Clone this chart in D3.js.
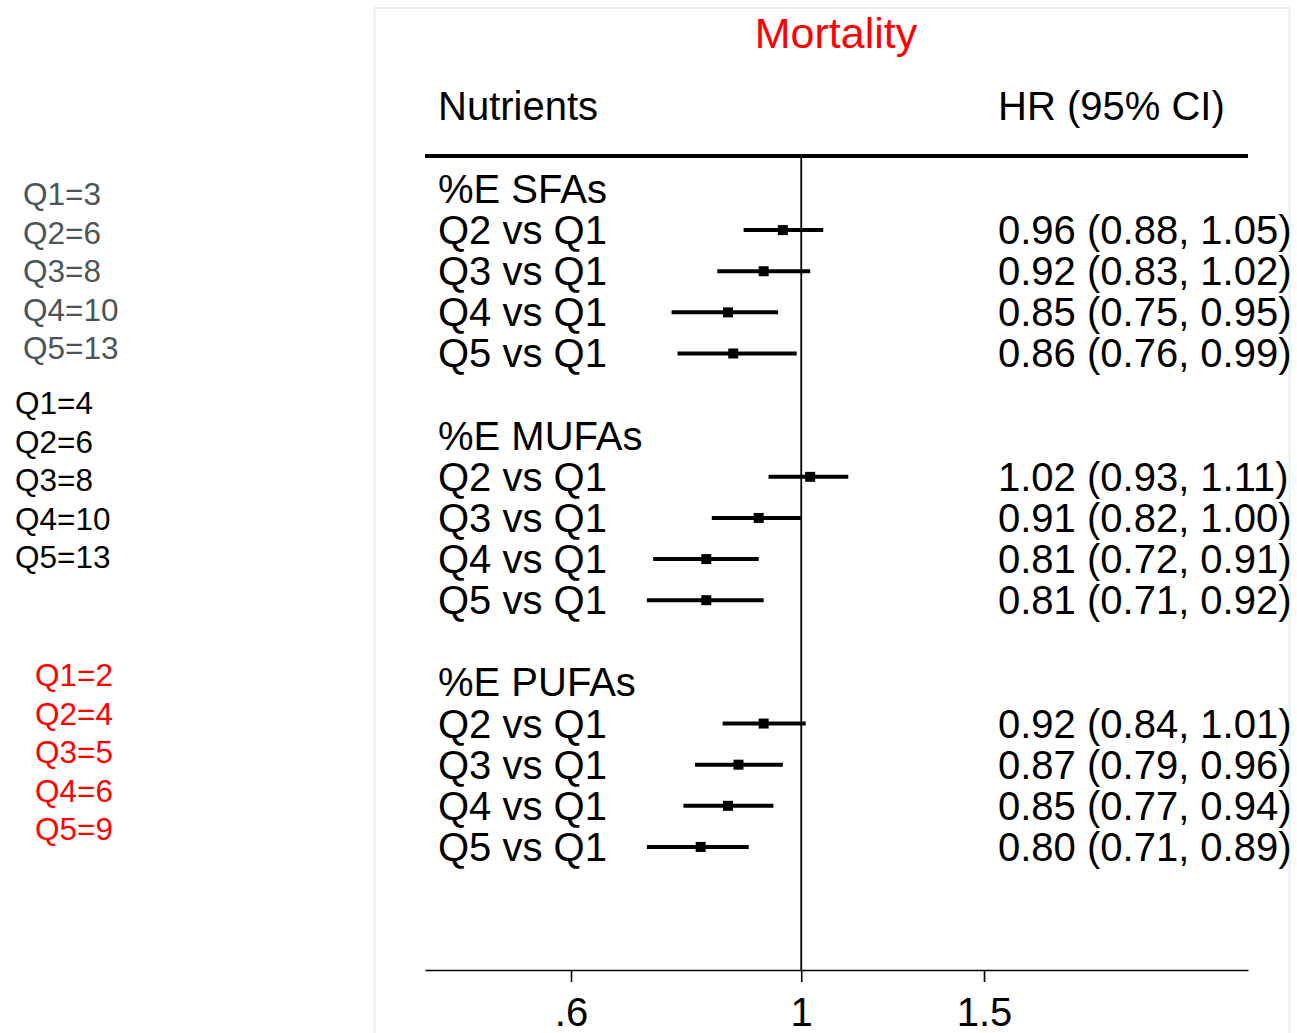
<!DOCTYPE html>
<html>
<head>
<meta charset="utf-8">
<script src="https://cdn.jsdelivr.net/npm/d3@7"></script>
<style>
  html, body { margin: 0; padding: 0; background: #fff; }
  svg { display: block; }
  text { font-family: "Liberation Sans", Arial, sans-serif; }
</style>
</head>
<body>
<script>
// Forest plot: hazard ratios for mortality by quintile of fat intake (%E)
const groups = ["%E SFAs", "%E MUFAs", "%E PUFAs"];
const comparisons = ["Q2 vs Q1", "Q3 vs Q1", "Q4 vs Q1", "Q5 vs Q1"];

const hrSFA = [0.96, 0.92, 0.85, 0.86];
const loSFA = [0.88, 0.83, 0.75, 0.76];
const hiSFA = [1.05, 1.02, 0.95, 0.99];

const hrMUFA = [1.02, 0.91, 0.81, 0.81];
const loMUFA = [0.93, 0.82, 0.72, 0.71];
const hiMUFA = [1.11, 1.00, 0.91, 0.92];

const hrPUFA = [0.92, 0.87, 0.85, 0.80];
const loPUFA = [0.84, 0.79, 0.77, 0.71];
const hiPUFA = [1.01, 0.96, 0.94, 0.89];

// Median intake per quintile, shown in the left margin
const quintiles = ["Q1", "Q2", "Q3", "Q4", "Q5"];
const medSFA = [3, 6, 8, 10, 13];
const medMUFA = [4, 6, 8, 10, 13];
const medPUFA = [2, 4, 5, 6, 9];

const tickValues = [0.6, 1, 1.5];
const tickLabels = [".6", "1", "1.5"];

const W = 1297, H = 1033;
const svg = d3.select("body").append("svg").attr("width", W).attr("height", H);

// Panel frame
svg.append("rect")
  .attr("x", 374.5).attr("y", 8).attr("width", 915).attr("height", 1050)
  .attr("fill", "none").attr("stroke", "#e4edf0").attr("stroke-width", 2);

// Log-scaled hazard ratio axis
const x0 = d3.scaleLog().domain([0.6, 1.5]).range([571, 984]);
const x = d3.scaleLog().domain([x0.invert(425), x0.invert(1248)]).range([425, 1248]);

// Rows: header, four comparisons, blank line, for each group
const rowY = i => 189 + i * 41.12;
const rows = [];
const sets = [[hrSFA, loSFA, hiSFA], [hrMUFA, loMUFA, hiMUFA], [hrPUFA, loPUFA, hiPUFA]];
groups.forEach((g, gi) => {
  rows.push({ type: "header", label: g, idx: gi * 6 });
  comparisons.forEach((c, ci) => {
    rows.push({ type: "est", label: c, idx: gi * 6 + 1 + ci,
      hr: sets[gi][0][ci], lo: sets[gi][1][ci], hi: sets[gi][2][ci] });
  });
});

const fmt = d3.format(".2f");
const FS = 40;

// Title and column headers
svg.append("text").attr("x", 836).attr("y", 48).attr("text-anchor", "middle")
  .attr("font-size", 43).attr("fill", "#ff0000").text("Mortality");
svg.append("text").attr("x", 438).attr("y", 120).attr("font-size", FS).attr("fill", "#000").text("Nutrients");
svg.append("text").attr("x", 998).attr("y", 120).attr("font-size", FS).attr("fill", "#000").text("HR (95% CI)");

// Heavy rule under the headers
svg.append("line").attr("x1", 425).attr("x2", 1248).attr("y1", 156).attr("y2", 156)
  .attr("stroke", "#000").attr("stroke-width", 4);

// Reference line at HR = 1
svg.append("line").attr("x1", x(1)).attr("x2", x(1)).attr("y1", 156).attr("y2", 970)
  .attr("stroke", "#000").attr("stroke-width", 1.8);

// Row labels
svg.append("g").selectAll("text").data(rows).join("text")
  .attr("x", 438).attr("y", d => rowY(d.idx) + 14)
  .attr("font-size", FS).attr("fill", "#000").text(d => d.label);

const est = rows.filter(d => d.type === "est");

// Confidence intervals
svg.append("g").selectAll("line").data(est).join("line")
  .attr("x1", d => x(d.lo)).attr("x2", d => x(d.hi))
  .attr("y1", d => rowY(d.idx)).attr("y2", d => rowY(d.idx))
  .attr("stroke", "#000").attr("stroke-width", 4);

// Point estimates
const ms = 10;
svg.append("g").selectAll("rect").data(est).join("rect")
  .attr("x", d => x(d.hr) - ms / 2).attr("y", d => rowY(d.idx) - ms / 2)
  .attr("width", ms).attr("height", ms).attr("fill", "#000");

// HR (95% CI) text column
svg.append("g").selectAll("text").data(est).join("text")
  .attr("x", 998).attr("y", d => rowY(d.idx) + 14)
  .attr("font-size", FS).attr("fill", "#000")
  .text(d => `${fmt(d.hr)} (${fmt(d.lo)}, ${fmt(d.hi)})`);

// Bottom axis
const axis = d3.axisBottom(x).tickValues(tickValues).tickSize(12).tickSizeOuter(0).tickPadding(16)
  .tickFormat(v => tickLabels[tickValues.indexOf(v)]);
const ax = svg.append("g").attr("transform", "translate(0,970)").call(axis);
ax.select(".domain").attr("stroke", "#000").attr("stroke-width", 1.6);
ax.selectAll(".tick line").attr("stroke", "#000").attr("stroke-width", 1.6);
ax.selectAll(".tick text").attr("font-size", FS).attr("fill", "#000")
  .attr("font-family", "'Liberation Sans', Arial, sans-serif");

// Quintile medians in the left margin
const medBlocks = [
  { vals: medSFA, x: 23, y0: 194, color: "#4b5558" },
  { vals: medMUFA, x: 15, y0: 403, color: "#000000" },
  { vals: medPUFA, x: 35, y0: 675, color: "#ff0000" }
];
medBlocks.forEach(b => {
  svg.append("g").selectAll("text").data(b.vals).join("text")
    .attr("x", b.x).attr("y", (d, i) => b.y0 + i * 38.5 + 11)
    .attr("font-size", 31.5).attr("fill", b.color)
    .text((d, i) => `${quintiles[i]}=${d}`);
});
</script>
</body>
</html>
